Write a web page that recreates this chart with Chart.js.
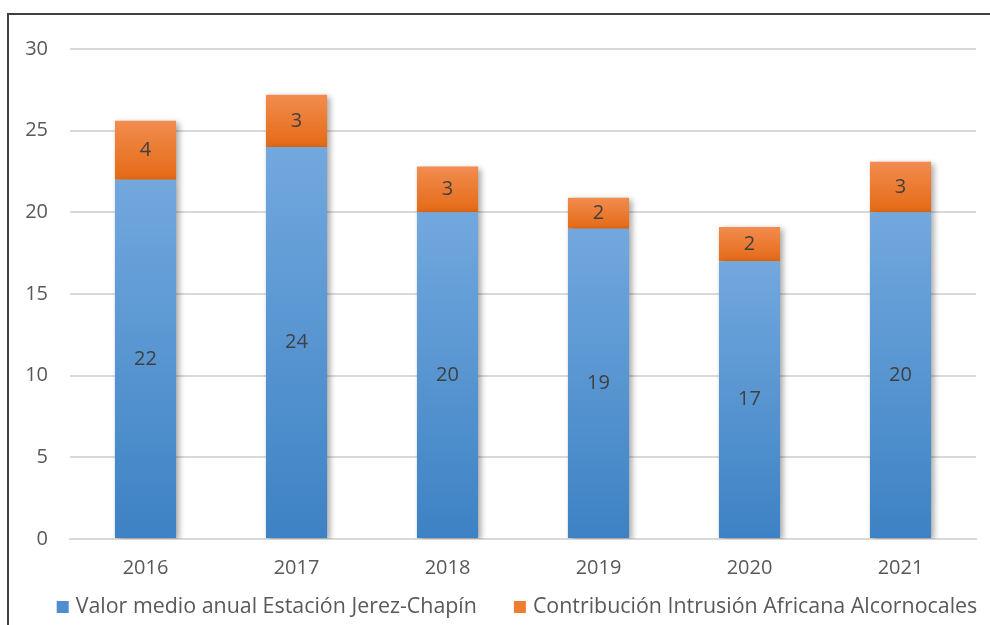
<!DOCTYPE html>
<html>
<head>
<meta charset="utf-8">
<script src="https://cdn.jsdelivr.net/npm/chart.js@4"></script>
<style>
  html, body { margin: 0; padding: 0; background: #fff; }
  #wrap { position: relative; width: 990px; height: 625px; overflow: hidden; }
  #frame { position: absolute; left: 7px; top: 13px; right: -4px; bottom: -4px;
           border-top: 2px solid #404040; border-left: 2px solid #404040; pointer-events: none; }
</style>
</head>
<body>
<div id="wrap">
  <canvas id="chart" width="990" height="625"></canvas>
  <div id="frame"></div>
</div>
<script>
const years = ['2016', '2017', '2018', '2019', '2020', '2021'];
const valorMedio = [22, 24, 20, 19, 17, 20];
const contribucion = [3.6, 3.2, 2.8, 1.9, 2.1, 3.1];
const yTicks = [0, 5, 10, 15, 20, 25, 30];
const legendColors = ['#4f8fcf', '#ed7d31'];

const FONT = "'Open Sans', sans-serif";

// gradient per bar, light on top, darker at the base
function barFill(light, dark, flat) {
  return function(ctx) {
    const chart = ctx.chart;
    if (!chart.chartArea || ctx.type !== 'data') return flat;
    const i = ctx.dataIndex;
    const base = ctx.datasetIndex === 0 ? 0 : valorMedio[i];
    const top = base + ctx.dataset.data[i];
    const y = chart.scales.y;
    const g = chart.ctx.createLinearGradient(0, y.getPixelForValue(top), 0, y.getPixelForValue(base));
    g.addColorStop(0, light);
    g.addColorStop(1, dark);
    return g;
  };
}

const barShadow = {
  id: 'barShadow',
  beforeDatasetsDraw(chart) {
    const c = chart.ctx;
    c.save();
    c.shadowColor = 'rgba(0,0,0,0.35)';
    c.shadowBlur = 6;
    c.shadowOffsetX = 3;
    c.shadowOffsetY = 2;
  },
  afterDatasetsDraw(chart) {
    chart.ctx.restore();
  }
};

const barLabels = {
  id: 'barLabels',
  afterDatasetsDraw(chart) {
    const c = chart.ctx;
    c.save();
    c.font = '20px ' + FONT;
    c.fillStyle = '#404040';
    c.textAlign = 'center';
    c.textBaseline = 'middle';
    chart.data.datasets.forEach((ds, d) => {
      chart.getDatasetMeta(d).data.forEach((el, i) => {
        c.fillText(Math.round(ds.data[i]), el.x, (el.y + el.base) / 2);
      });
    });
    c.restore();
  }
};

// legend drawn by hand so the spacing between the two items matches
const bottomLegend = {
  id: 'bottomLegend',
  afterDraw(chart) {
    const c = chart.ctx;
    const box = 12, gap = 7, itemGap = 37;
    c.save();
    c.font = '21.4px ' + FONT;
    c.textBaseline = 'middle';
    const texts = chart.data.datasets.map(ds => ds.label);
    const widths = texts.map(t => c.measureText(t).width);
    let total = widths.reduce((a, b) => a + b, 0) + texts.length * (box + gap) + itemGap * (texts.length - 1);
    const area = chart.chartArea;
    let x = (area.left + area.right) / 2 - 6 - total / 2;
    const y = 607;
    texts.forEach((t, i) => {
      c.fillStyle = legendColors[i];
      c.fillRect(x, y - box / 2, box, box);
      x += box + gap;
      c.fillStyle = '#595959';
      c.fillText(t, x, y);
      x += widths[i] + itemGap;
    });
    c.restore();
  }
};

new Chart(document.getElementById('chart'), {
  type: 'bar',
  data: {
    labels: years,
    datasets: [{
      label: 'Valor medio anual Estación Jerez-Chapín',
      data: valorMedio,
      backgroundColor: barFill('#72a8de', '#3d82c4', '#5b9bd5'),
      categoryPercentage: 1,
      barPercentage: 0.405
    }, {
      label: 'Contribución Intrusión Africana Alcornocales',
      data: contribucion,
      backgroundColor: barFill('#f28c4f', '#e46a15', '#ed7d31'),
      categoryPercentage: 1,
      barPercentage: 0.405
    }]
  },
  options: {
    responsive: false,
    animation: false,
    layout: { padding: { left: 26, right: 14, top: 49, bottom: 41 } },
    plugins: {
      legend: { display: false },
      tooltip: { enabled: false }
    },
    scales: {
      x: {
        stacked: true,
        afterFit(scale) { scale.height = 45; },
        grid: { display: false, drawTicks: false },
        border: { color: '#d9d9d9', width: 2 },
        ticks: { color: '#595959', padding: 17, font: { family: FONT, size: 20 } }
      },
      y: {
        stacked: true,
        min: 0,
        max: 30,
        afterBuildTicks(scale) { scale.ticks = yTicks.map(v => ({ value: v })); },
        afterFit(scale) { scale.width = 44; },
        grid: { color: '#d9d9d9', lineWidth: 2, drawTicks: false },
        border: { display: false },
        ticks: { color: '#595959', padding: 22, font: { family: FONT, size: 20 } }
      }
    }
  },
  plugins: [barShadow, barLabels, bottomLegend]
});
</script>
</body>
</html>
